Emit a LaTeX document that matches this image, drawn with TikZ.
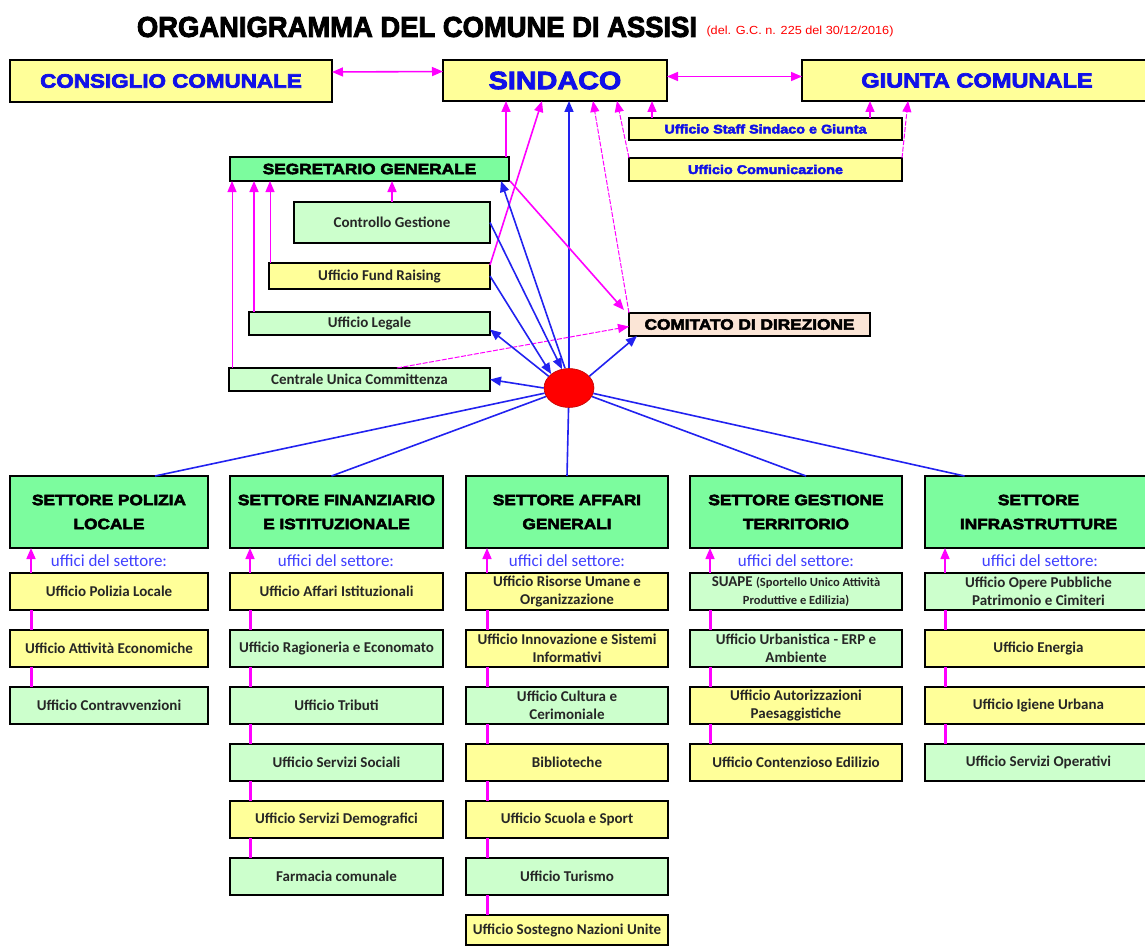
\documentclass[tikz,border=0pt]{standalone}
\usepackage{fontspec}
\setmainfont{Carlito}
\newfontfamily\heavy{Liberation Sans}[BoldFeatures={FakeBold=3.5,FakeStretch=1.15}]
\newfontfamily\narrowf{Liberation Sans}
\usetikzlibrary{arrows.meta,shapes.geometric}
\definecolor{ylw}{HTML}{FFFF99}
\definecolor{lgr}{HTML}{CCFFCC}
\definecolor{hgr}{HTML}{7CFC9E}
\definecolor{peach}{HTML}{FBE5D6}
\definecolor{tblue}{HTML}{1010E8}
\definecolor{ublue}{HTML}{4040FF}
\definecolor{mg}{HTML}{FF00FF}
\definecolor{bl}{HTML}{2222F0}
\newcommand\bx[7]{\node[#6, minimum width={#4-#2}, minimum height={#5-#3}] (#1) at ({(#2+#4)/2},{(#3+#5)/2}) {#7};}
\newcommand\smf{\fontsize{12.5}{18}\selectfont}
\tikzset{
  base/.style={draw=black, inner sep=0pt, outer sep=0pt, align=center},
  topbox/.style={base, line width=2.2pt, fill=ylw, text=tblue, font=\heavy\bfseries\fontsize{19.5}{22}\selectfont},
  smallbox/.style={base, line width=2pt, fill=ylw, text=tblue, font=\heavy\bfseries\fontsize{12.5}{14}\selectfont},
  hdr/.style={base, line width=2.2pt, fill=hgr, font=\heavy\bfseries\fontsize{15}{24}\selectfont},
  off/.style={base, line width=1.4pt, text=black!85, font=\bfseries\fontsize{15}{18}\selectfont},
  offy/.style={off, fill=ylw},
  offg/.style={off, fill=lgr},
  uff/.style={text=ublue, font=\fontsize{17}{19}\selectfont, inner sep=0pt},
  tip/.style={-{Triangle[length=11pt,width=9pt]}},
  dtip/.style={{Triangle[length=11pt,width=9pt]}-{Triangle[length=11pt,width=9pt]}},
  mag/.style={draw=mg, line width=1.6pt},
  magt/.style={draw=mg, line width=1pt},
  magd/.style={draw=mg, line width=1pt, dash pattern=on 5pt off 1.5pt},
  blu/.style={draw=bl, line width=1.6pt},
  link/.style={draw=mg, line width=3pt},
}
\begin{document}
\begin{tikzpicture}[x=1pt,y=-1pt]
\useasboundingbox[fill=white] (0,0) rectangle (1145,947);
% title
\node[inner sep=0pt] (title) at (417,27) {\resizebox{560pt}{20pt}{\heavy\bfseries ORGANIGRAMMA DEL COMUNE DI ASSISI}};
\node[inner sep=0pt, text=red] (sub) at (800,31) {\resizebox{187pt}{8.5pt}{\narrowf (del. G.C. n. 225 del 30/12/2016)}};
% top boxes
\bx{cons}{10}{60}{332}{102}{topbox}{CONSIGLIO COMUNALE}
\bx{sind}{443}{60}{667}{101}{topbox, font=\heavy\bfseries\fontsize{25}{28}\selectfont}{SINDACO}
\bx{giun}{802}{60}{1152}{101}{topbox, font=\heavy\bfseries\fontsize{20.5}{22}\selectfont}{GIUNTA COMUNALE}
\bx{staff}{629}{118}{902}{140}{smallbox}{Ufficio Staff Sindaco e Giunta}
\bx{comu}{629}{158}{902}{181}{smallbox}{Ufficio Comunicazione}
\bx{segr}{230}{157}{509}{181}{base, line width=2pt, fill=hgr, font=\heavy\bfseries\fontsize{15}{16}\selectfont}{SEGRETARIO GENERALE}
\bx{ctrl}{294}{202}{490}{243}{offg}{Controllo Gestione}
\bx{fund}{269}{263}{490}{289}{offy}{Ufficio Fund Raising}
\bx{leg}{249}{312}{490}{335}{offg}{Ufficio Legale}
\bx{cen}{229}{368}{490}{391}{offg}{Centrale Unica Committenza}
\bx{com}{629}{313}{870}{336}{base, line width=2pt, fill=peach, font=\heavy\bfseries\fontsize{15}{16}\selectfont}{COMITATO DI DIREZIONE}
\node[ellipse, fill=red, draw=red!75!black, line width=0.6pt, minimum width=50pt, minimum height=39pt, inner sep=0pt] (ell) at (569,388) {};
% top connectors
\draw[mag,dtip] ([yshift=9pt]cons.east) -- ([yshift=9pt]sind.west);
\draw[mag,dtip] ([yshift=4pt]sind.east) -- ([yshift=4pt]giun.west);
\draw[mag,tip] ([xshift=-3pt]segr.north east) -- ([xshift=-3pt]segr.north east |- sind.south);
\draw[mag,tip] ([yshift=-2pt]fund.north east) -- ([xshift=99pt]sind.south west);
\draw[blu,tip] (ell.north) -- (ell.north |- sind.south);
\draw[magd,tip] (com.north west) -- ([xshift=150pt]sind.south west);
\draw[magd,tip] (comu.north west) -- ([xshift=174pt]sind.south west);
\draw[mag,tip] ([xshift=23pt]staff.north west) -- ([xshift=23pt]staff.north west |- sind.south);
\draw[mag,tip] ([xshift=-32pt]staff.north east) -- ([xshift=-32pt]staff.north east |- giun.south);
\draw[magd,tip] (comu.north east) -- ([xshift=106pt]giun.south west);
% segretario connectors
\draw[magt,tip] ([xshift=3pt]cen.north west) -- ([xshift=3pt]cen.north west |- segr.south);
\draw[mag,tip] ([xshift=5pt]leg.north west) -- ([xshift=5pt]leg.north west |- segr.south);
\draw[magt,tip] ([xshift=1pt]fund.north west) -- ([xshift=1pt]fund.north west |- segr.south);
\draw[mag,tip] (ctrl.north) -- (ctrl.north |- segr.south);
\draw[mag,tip] ([xshift=1pt]segr.south east) -- ([xshift=-5pt,yshift=3pt]com.north west);
\draw[magd,tip] ([xshift=168pt]cen.north west) -- ([yshift=-2pt]com.west);
% ellipse connectors
\draw[blu,tip] ([xshift=-4pt]ell.north) -- ([xshift=-8pt]segr.south east);
\draw[blu,tip] (ctrl.east) -- ([xshift=-7pt,yshift=-1pt]ell.north);
\draw[blu,tip] (fund.east) -- (ell.north west);
\draw[blu,tip] (ell.150) -- ([yshift=-6pt]leg.east);
\draw[blu,tip] (ell.west) -- (cen.east);
\draw[blu,tip] (ell.30) -- ([xshift=8pt]com.south west);
% sectors
\bx{s1}{10}{476}{208}{548}{hdr}{SETTORE POLIZIA\\LOCALE}
\bx{s2}{230}{476}{443}{548}{hdr}{SETTORE FINANZIARIO\\E ISTITUZIONALE}
\bx{s3}{466}{476}{668}{548}{hdr}{SETTORE AFFARI\\GENERALI}
\bx{s4}{690}{476}{902}{548}{hdr}{SETTORE GESTIONE\\TERRITORIO}
\bx{s5}{925}{476}{1152}{548}{hdr}{SETTORE\\INFRASTRUTTURE}
\draw[blu] (ell) -- ([xshift=46pt]s1.north);
\draw[blu] (ell) -- ([xshift=-5pt]s2.north);
\draw[blu] (ell) -- ([xshift=0pt]s3.north);
\draw[blu] (ell) -- ([xshift=10pt]s4.north);
\draw[blu] (ell) -- ([xshift=-74pt]s5.north);
\node[uff] (u1) at (109,561) {uffici del settore:};
\node[uff] (u2) at (336,561) {uffici del settore:};
\node[uff] (u3) at (567,561) {uffici del settore:};
\node[uff] (u4) at (796,561) {uffici del settore:};
\node[uff] (u5) at (1040,561) {uffici del settore:};
% column 1
\bx{a1}{10}{573}{208}{610}{offy}{Ufficio Polizia Locale}
\bx{a2}{10}{630}{208}{667}{offy}{Ufficio Attività Economiche}
\bx{a3}{10}{687}{208}{724}{offg}{Ufficio Contravvenzioni}
% column 2
\bx{b1}{230}{573}{443}{610}{offy}{Ufficio Affari Istituzionali}
\bx{b2}{230}{630}{443}{667}{offg}{Ufficio Ragioneria e Economato}
\bx{b3}{230}{687}{443}{724}{offg}{Ufficio Tributi}
\bx{b4}{230}{744}{443}{781}{offg}{Ufficio Servizi Sociali}
\bx{b5}{230}{801}{443}{838}{offy}{Ufficio Servizi Demografici}
\bx{b6}{230}{858}{443}{895}{offg}{Farmacia comunale}
% column 3
\bx{c1}{466}{573}{668}{610}{offy}{Ufficio Risorse Umane e\\Organizzazione}
\bx{c2}{466}{630}{668}{667}{offy}{Ufficio Innovazione e Sistemi\\Informativi}
\bx{c3}{466}{687}{668}{724}{offg}{Ufficio Cultura e\\Cerimoniale}
\bx{c4}{466}{744}{668}{781}{offy}{Biblioteche}
\bx{c5}{466}{801}{668}{838}{offy}{Ufficio Scuola e Sport}
\bx{c6}{466}{858}{668}{895}{offg}{Ufficio Turismo}
\bx{c7}{466}{915}{668}{945}{offy}{Ufficio Sostegno Nazioni Unite}
% column 4
\bx{d1}{690}{573}{902}{610}{offg}{SUAPE {\smf(Sportello Unico Attività}\\{\smf Produttive e Edilizia)}}
\bx{d2}{690}{630}{902}{667}{offg}{Ufficio Urbanistica - ERP e\\Ambiente}
\bx{d3}{690}{687}{902}{724}{offy}{Ufficio Autorizzazioni\\Paesaggistiche}
\bx{d4}{690}{744}{902}{781}{offy}{Ufficio Contenzioso Edilizio}
% column 5
\bx{e1}{925}{573}{1152}{610}{offg}{Ufficio Opere Pubbliche\\Patrimonio e Cimiteri}
\bx{e2}{925}{630}{1152}{667}{offy}{Ufficio Energia}
\bx{e3}{925}{687}{1152}{724}{offy}{Ufficio Igiene Urbana}
\bx{e4}{925}{744}{1152}{781}{offg}{Ufficio Servizi Operativi}
% sector arrows
\draw[mag,tip] ([xshift=21pt]a1.north west) -- ([xshift=21pt]a1.north west |- s1.south);
\draw[mag,tip] ([xshift=20pt]b1.north west) -- ([xshift=20pt]b1.north west |- s2.south);
\draw[mag,tip] ([xshift=21pt]c1.north west) -- ([xshift=21pt]c1.north west |- s3.south);
\draw[mag,tip] ([xshift=20pt]d1.north west) -- ([xshift=20pt]d1.north west |- s4.south);
\draw[mag,tip] ([xshift=20pt]e1.north west) -- ([xshift=20pt]e1.north west |- s5.south);
% office links
\foreach \p/\q in {a1/a2,a2/a3}{\draw[link] ([xshift=21pt]\p.south west) -- ([xshift=21pt]\q.north west);}
\foreach \p/\q in {b1/b2,b2/b3,b3/b4,b4/b5,b5/b6}{\draw[link] ([xshift=20pt]\p.south west) -- ([xshift=20pt]\q.north west);}
\foreach \p/\q in {c1/c2,c2/c3,c3/c4,c4/c5,c5/c6,c6/c7}{\draw[link] ([xshift=21pt]\p.south west) -- ([xshift=21pt]\q.north west);}
\foreach \p/\q in {d1/d2,d2/d3,d3/d4}{\draw[link] ([xshift=20pt]\p.south west) -- ([xshift=20pt]\q.north west);}
\foreach \p/\q in {e1/e2,e2/e3,e3/e4}{\draw[link] ([xshift=20pt]\p.south west) -- ([xshift=20pt]\q.north west);}
\end{tikzpicture}
\end{document}
